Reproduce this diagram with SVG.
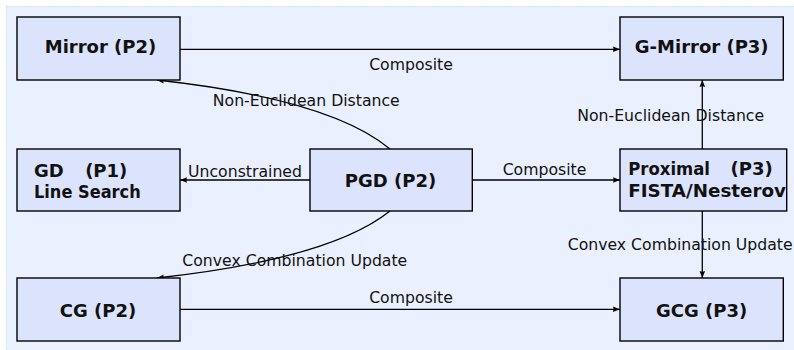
<svg xmlns="http://www.w3.org/2000/svg" width="794" height="350" viewBox="0 0 794 350">
<style>
.node rect{fill:#dce3fc;stroke:#000;stroke-width:1.4}
.nt{font-family:"DejaVu Sans",sans-serif;font-weight:bold;font-size:18px;fill:#111}
.lb{font-family:"DejaVu Sans",sans-serif;font-size:15.7px;fill:#111;text-anchor:middle}
.edge{fill:none;stroke:#000;stroke-width:1.3;marker-end:url(#ah)}
</style>
<defs>
<marker id="ah" viewBox="0 0 10 10" refX="10" refY="5" markerWidth="7" markerHeight="7" markerUnits="userSpaceOnUse" orient="auto">
<path d="M0,1 L10,5 L0,9 Q2,5 0,1 Z" fill="#000"/>
</marker>
</defs>
<rect x="6.5" y="6.5" width="800" height="360" fill="#eaf0fd" stroke="#9fd6ee" stroke-width="1" stroke-dasharray="1,2"/>
<g id="connectors">
<path class="edge" d="M180,49.3 L620,49.3"/>
<path class="edge" d="M390,149 Q330,99 157,80"/>
<path class="edge" d="M310,180 L180,180"/>
<path class="edge" d="M472,180 L620,180"/>
<path class="edge" d="M390,211 Q330,259 157,278"/>
<path class="edge" d="M180,309.3 L620,309.3"/>
<path class="edge" d="M702.3,149 L702.3,80"/>
<path class="edge" d="M702.3,211 L702.3,278"/>
<text class="lb" x="411" y="69.5">Composite</text>
<text class="lb" x="306.3" y="105.7">Non-Euclidean Distance</text>
<text class="lb" x="245" y="176.5">Unconstrained</text>
<text class="lb" x="544.5" y="175">Composite</text>
<text class="lb" x="670.7" y="120.7">Non-Euclidean Distance</text>
<text class="lb" x="294.8" y="266">Convex Combination Update</text>
<text class="lb" x="567.7" y="250" style="text-anchor:start">Convex Combination Update</text>
<text class="lb" x="411" y="303.3">Composite</text>
</g>
<g id="mirror" class="node">
<rect x="17" y="17" width="163" height="63"/>
<text class="nt" x="100.5" y="53.3" text-anchor="middle">Mirror (P2)</text>
</g>
<g id="gmirror" class="node">
<rect x="620" y="17" width="163.3" height="63"/>
<text class="nt" x="701.7" y="53.3" text-anchor="middle">G-Mirror (P3)</text>
</g>
<g id="gd" class="node">
<rect x="17" y="149" width="163" height="62"/>
<text class="nt" x="34" y="176.7">GD</text>
<text class="nt" x="127.3" y="176.7" text-anchor="end">(P1)</text>
<text class="nt" x="34" y="198.3" textLength="106.7" lengthAdjust="spacingAndGlyphs">Line Search</text>
</g>
<g id="pgd" class="node">
<rect x="310" y="149" width="162.3" height="62"/>
<text class="nt" x="390.5" y="186.5" text-anchor="middle">PGD (P2)</text>
</g>
<g id="proximal" class="node">
<rect x="620" y="149" width="166.7" height="62"/>
<text class="nt" x="628.3" y="175" textLength="81.7" lengthAdjust="spacingAndGlyphs">Proximal</text>
<text class="nt" x="772.7" y="175" text-anchor="end">(P3)</text>
<text class="nt" x="628.3" y="196.7" textLength="157.7" lengthAdjust="spacingAndGlyphs">FISTA/Nesterov</text>
</g>
<g id="cg" class="node">
<rect x="17" y="278" width="163" height="63"/>
<text class="nt" x="98" y="317" text-anchor="middle">CG (P2)</text>
</g>
<g id="gcg" class="node">
<rect x="620" y="278" width="163.3" height="63"/>
<text class="nt" x="701.7" y="317" text-anchor="middle">GCG (P3)</text>
</g>
</svg>
